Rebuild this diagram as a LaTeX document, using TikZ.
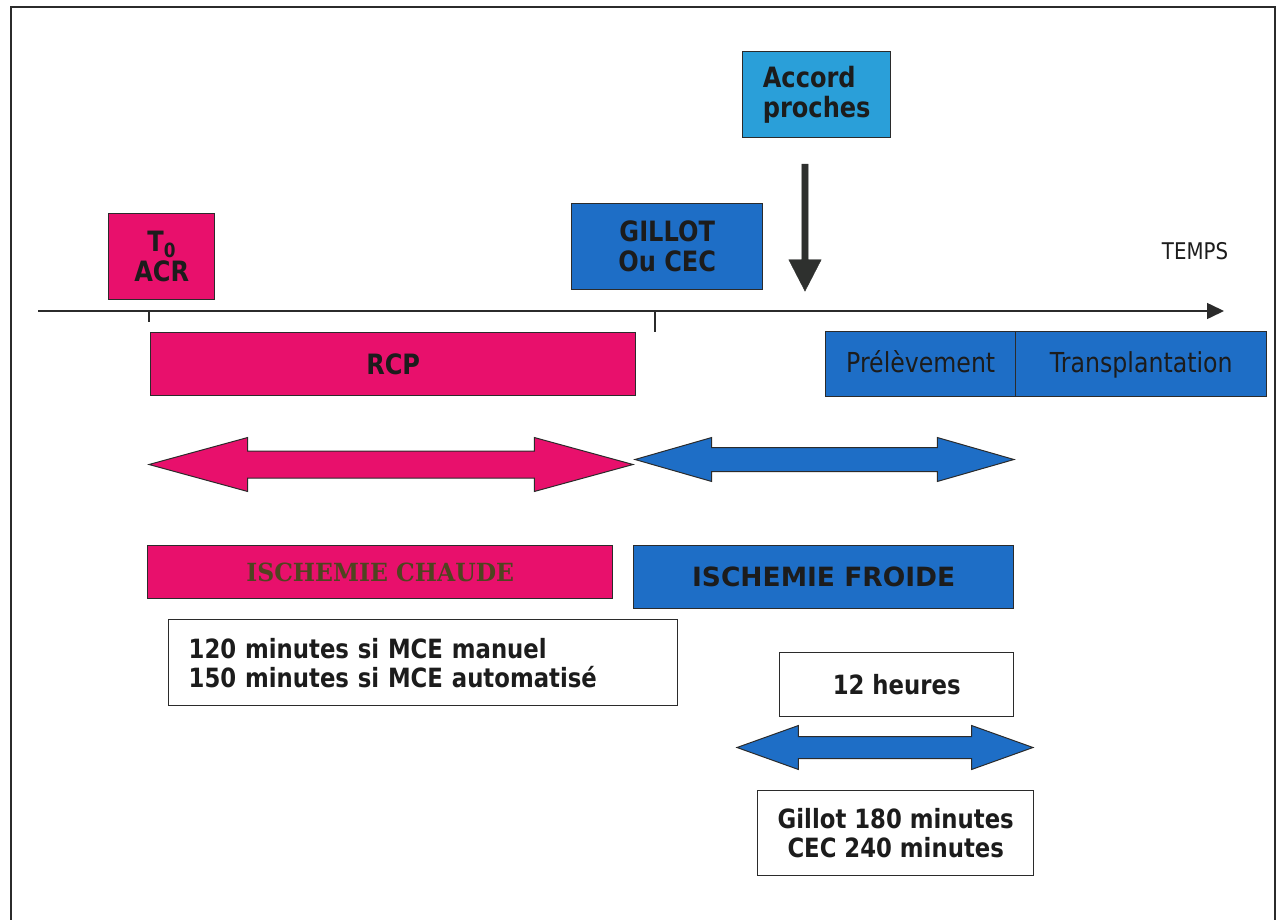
\documentclass[tikz,border=0pt]{standalone}
\usepackage{fontspec}
\usetikzlibrary{shapes.arrows,arrows.meta}

\newfontfamily\tahoma[FakeStretch=0.86]{DejaVu Sans}
\newfontfamily\verdana{DejaVu Sans}
\newfontfamily\bookman[FakeStretch=0.94]{DejaVu Serif}

\definecolor{rose}{HTML}{E8106C}
\definecolor{deepblue}{HTML}{1E6EC6}
\definecolor{skyblue}{HTML}{2A9FD9}
\definecolor{edgegray}{HTML}{2B2B2B}
\definecolor{charcoal}{HTML}{2E302E}
\definecolor{ink}{HTML}{1C1C1C}
\definecolor{olive}{HTML}{4F4420}

\begin{document}
\begin{tikzpicture}[x=1pt, y=-1pt]
    \tikzset{box/.style = {draw=edgegray, line width=1.4pt, inner sep=0pt, anchor=north west, text=ink}}
    \tikzset{label/.style = {box, font=\tahoma\bfseries\fontsize{28}{30}\selectfont, align=center}}
    \tikzset{note/.style = {box, fill=white, font=\tahoma\bfseries\fontsize{26.5}{29}\selectfont}}
    \tikzset{phase/.style = {box, font=\tahoma\fontsize{27.5}{30}\selectfont, text height=21pt, text depth=5pt}}
    \tikzset{span/.style = {double arrow, draw=edgegray, line width=1pt, inner sep=0pt}}
    \tikzset{axis/.style = {draw=edgegray, line width=1.5pt}}

    \useasboundingbox (0,0) rectangle (1284,920);
    \draw[axis, line width=2pt] (11,930) -- (11,7) -- (1275,7) -- (1275,930);

    \node[label, fill=skyblue, align=left, minimum width=148pt, minimum height=86pt] (accord) at (742,51) {Accord\\proches};
    \node[label, fill=deepblue, minimum width=191pt, minimum height=86pt] (gillot) at (571,203) {GILLOT\\Ou CEC};
    \node[label, fill=rose, minimum width=106pt, minimum height=86pt] (t0) at (108,213) {T\textsubscript{0}\\ACR};
    \node[font=\tahoma\fontsize{23}{25}\selectfont, text=ink] (temps) at (1195,251) {TEMPS};

    \node[single arrow, fill=charcoal, draw=charcoal, rotate=-90, inner sep=0pt, inner ysep=3pt,
          minimum height=127pt, minimum width=32pt, single arrow head extend=13pt,
          single arrow tip angle=54.6] (hint) at (805,224.5) {};

    \coordinate (start) at (38,311);
    \coordinate (end) at (1224,311);
    \coordinate (tick0) at (149,311);
    \coordinate (tick0end) at (149,322);
    \coordinate (tick1) at (655,311);
    \coordinate (tick1end) at (655,332);
    \draw[axis, -{Triangle[length=17pt, width=16pt]}] (start) -- (end);
    \draw[axis] (tick0) -- (tick0end);
    \draw[axis] (tick1) -- (tick1end);

    \node[label, fill=rose, minimum width=485pt, minimum height=63pt] (rcp) at (150,332) {RCP};
    \node[phase, fill=deepblue, minimum width=190pt, minimum height=65pt] (prelev) at (825,331) {Prélèvement};
    \node[phase, fill=deepblue, minimum width=251pt, minimum height=65pt] (transpl) at (1015,331) {Transplantation};

    \node[span, fill=rose, minimum height=484pt, minimum width=53pt, inner ysep=13pt,
          double arrow head extend=13.5pt, double arrow tip angle=30.6] (warm) at (391,464.5) {};
    \node[span, fill=deepblue, minimum height=379pt, minimum width=43pt, inner ysep=11.5pt,
          double arrow head extend=10pt, double arrow tip angle=32] (cold) at (824.5,459.5) {};

    \node[box, fill=rose, minimum width=465pt, minimum height=53pt, text=olive,
          font=\bookman\bfseries\fontsize{25}{27}\selectfont] (chaude) at (147,545) {ISCHEMIE CHAUDE};
    \node[box, fill=deepblue, minimum width=380pt, minimum height=63pt,
          font=\verdana\bfseries\fontsize{26.5}{29}\selectfont] (froide) at (633,545) {ISCHEMIE FROIDE};

    \node[note, minimum width=509pt, minimum height=86pt, text width=469pt, inner xsep=20pt, align=left] (warmtime) at (168,619) {120 minutes si MCE manuel\\150 minutes si MCE automatisé};
    \node[note, minimum width=234pt, minimum height=64pt] (heures) at (779,652) {12 heures};

    \node[span, fill=deepblue, minimum height=296pt, minimum width=43pt, inner ysep=10.5pt,
          double arrow head extend=11pt, double arrow tip angle=39.4] (coldtime) at (885,747.5) {};

    \node[note, align=center, minimum width=276pt, minimum height=85pt] (coldmin) at (757,790) {Gillot 180 minutes\\CEC 240 minutes};
\end{tikzpicture}
\end{document}
